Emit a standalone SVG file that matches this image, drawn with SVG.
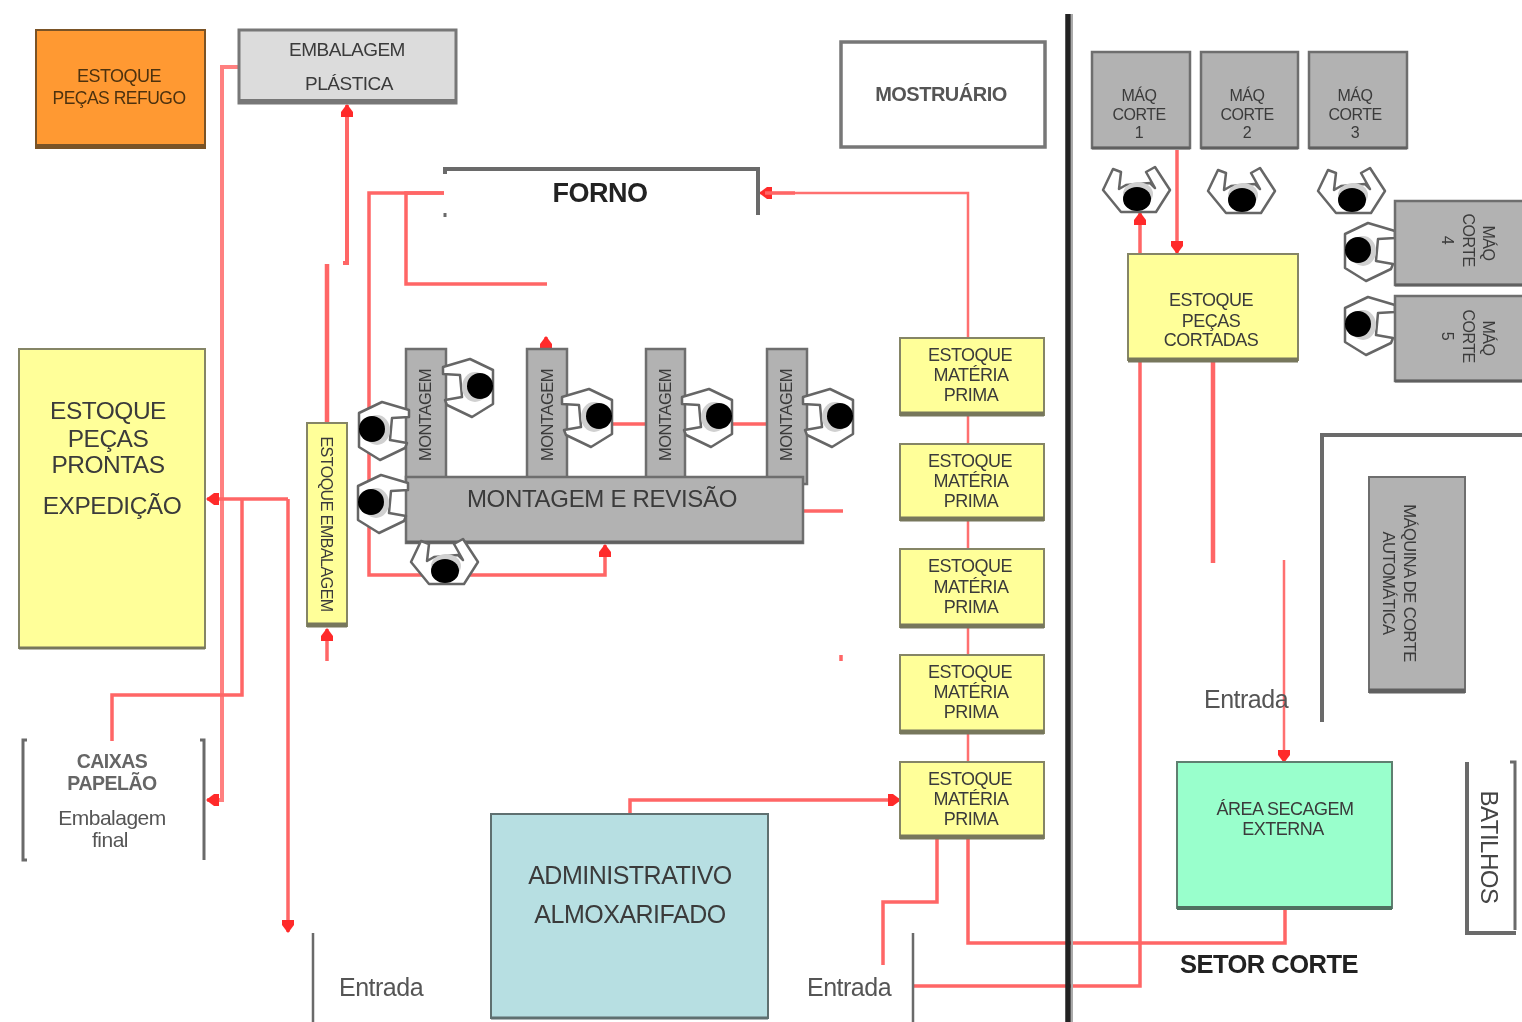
<svg xmlns="http://www.w3.org/2000/svg" xmlns:xlink="http://www.w3.org/1999/xlink" width="1522" height="1022" viewBox="0 0 1522 1022">
<style>
text{font-family:"Liberation Sans",Arial,sans-serif;text-anchor:middle;fill:#3a3a3a;letter-spacing:-.5px}
.s17{font-size:18px}.s25{font-size:25px}.s16{font-size:16.5px}.m{font-size:16px}
.y{fill:#ffff99;stroke:#858566;stroke-width:2}
.g{fill:#b2b2b2;stroke:#6e6e6e;stroke-width:2.5}
.yb{stroke:#77775c;stroke-width:5;fill:none}
.gb{stroke:#606060;stroke-width:5;fill:none}
.wall{fill:none;stroke:#6a6a6a;stroke-width:4}
.c{fill:none;stroke:#ff6666;stroke-width:3.5}
.c2{fill:none;stroke:#ff7070;stroke-width:2.5}
.pb{fill:#fff;stroke:#666;stroke-width:2.5;stroke-linejoin:round}
.en{font-size:25px;fill:#555}
</style>
<defs>
<filter id="soft" filterUnits="userSpaceOnUse" x="0" y="0" width="1522" height="1022"><feGaussianBlur stdDeviation="0.7"/></filter>
<marker id="a" markerUnits="userSpaceOnUse" markerWidth="14" markerHeight="14" refX="12" refY="7" orient="auto"><path d="M0,1 L5,1 L13,7 L5,13 L0,13Z" fill="#ff2a2a"/></marker>
<g id="person">
<path class="pb" d="M-35,-8 L-25,-29 L-17,-26 L-19,-9 L-12,-13 L12,-15 L17,-10 L8,-26 L17,-31 L32,-8 L18,14 L-17,14Z"/>
<ellipse cx="0" cy="-4" rx="15" ry="12" fill="#d0d0d0"/>
<ellipse cx="-1" cy="1" rx="14" ry="12" fill="#000"/>
</g>
<g id="side">
<path class="pb" d="M-13,-16 L10,-27 L37,-19 L37,-12 L20,-11 L18,11 L35,14 L33,19 L8,31 L-13,18Z"/>
<ellipse cx="5" cy="1" rx="13" ry="15" fill="#d0d0d0"/>
<ellipse cx="0" cy="0" rx="13" ry="13" fill="#000"/>
</g>
</defs>
<rect width="1522" height="1022" fill="#fff"/>
<g id="art" filter="url(#soft)">

<g id="connectors">
<path class="c" style="stroke:#ff8080;stroke-width:4" d="M238,67H222V800H207" marker-end="url(#a)"/>
<path class="c" style="stroke-width:4.5" d="M327,423V264"/>
<path class="c" style="stroke-width:4" d="M343,263H347V105" marker-end="url(#a)"/>
<path class="c" d="M444,193H369V575H605V545" marker-end="url(#a)"/>
<path class="c" d="M444,193H406V284H547"/>
<path class="c" d="M546,348V337" marker-end="url(#a)"/>
<path class="c2" d="M968,338V193H760" marker-end="url(#a)"/>
<path class="c" d="M795,193H765"/>
<path class="c2" d="M968,416V444M968,521V549M968,628V655M968,734V762"/>
<path class="c" d="M600,424H646M705,424H766"/>
<path class="c" d="M804,511H843"/>
<path class="c" d="M841,655V661"/>
<path class="c" d="M327,661V629" marker-end="url(#a)"/>
<path class="c" d="M288,499H207" marker-end="url(#a)"/>
<path class="c" d="M288,499V932" marker-end="url(#a)"/>
<path class="c" d="M242,499V695H112V741"/>
<path class="c" d="M630,813V800H900" marker-end="url(#a)"/>
<path class="c" d="M937,838V902H883V965"/>
<path class="c" d="M968,838V943H1285V908"/>
<path class="c" d="M914,986H1140V213" marker-end="url(#a)"/>
<path class="c" d="M1177,150V253" marker-end="url(#a)"/>
<path class="c" style="stroke-width:4.5" d="M1213,360V563"/>
<path class="c2" d="M1284,560V762" marker-end="url(#a)"/>
</g>

<g id="divider"><path d="M1068,14V1022" stroke="#222" stroke-width="5.5"/><path d="M1072,14V1022" stroke="#aaa" stroke-width="2"/></g>
<g id="walls">
<path class="wall" d="M1322,722V435H1522"/>
<path class="wall" style="stroke-width:2.5" d="M313,933V1022M913,933V1022"/>
<path class="wall" style="stroke-width:3" d="M27,740H23V860H27M200,740H204V860"/>
<path class="wall" style="stroke-width:3" d="M1510,762H1515V930"/>
<path class="wall" d="M1467,762V933H1516"/>
<path class="wall" d="M445,174V169H758V215"/>
<path class="wall" d="M445,213V217" style="stroke-width:3"/>
</g>

<g id="estoque-refugo"><rect x="36" y="30" width="169" height="118" fill="#ff9933" stroke="#7a5226" stroke-width="2"/><path d="M36,146H205" stroke="#7a5226" stroke-width="4"/><text class="s17" x="119" y="82" style="fill:#4d3210">ESTOQUE</text><text class="s17" x="119" y="104" style="fill:#4d3210;font-size:17.5px">PEÇAS REFUGO</text></g>
<g id="embalagem-plastica"><rect x="239" y="30" width="217" height="73" fill="#dcdcdc" stroke="#777" stroke-width="3"/><path d="M239,101H456" stroke="#777" stroke-width="4"/><text x="347" y="56" style="font-size:19px">EMBALAGEM</text><text x="349" y="90" style="font-size:19px">PLÁSTICA</text></g>
<g id="mostruario"><rect x="841" y="42" width="204" height="105" fill="#fff" stroke="#777" stroke-width="3.5"/><text x="941" y="101" style="font-size:20px;font-weight:bold;fill:#555">MOSTRUÁRIO</text></g>
<g id="forno"><text x="600" y="202" style="font-size:27px;font-weight:bold;fill:#222">FORNO</text></g>

<g id="estoque-prontas"><rect x="19" y="349" width="186" height="299" class="y"/><path class="yb" d="M19,648H205" style="stroke-width:3"/><text x="108" y="419" style="font-size:24.5px">ESTOQUE</text><text x="108" y="447" style="font-size:24.5px">PEÇAS</text><text x="108" y="473" style="font-size:24.5px">PRONTAS</text><text x="112" y="514" style="font-size:24.5px">EXPEDIÇÃO</text></g>
<g id="estoque-embalagem"><rect x="307" y="423" width="40" height="203" class="y"/><path class="yb" d="M307,625H347"/><text transform="translate(321,524) rotate(90)" style="font-size:16px">ESTOQUE EMBALAGEM</text></g>
<g id="caixas"><text x="112" y="768" style="font-size:19.5px;font-weight:bold;fill:#666">CAIXAS</text><text x="112" y="790" style="font-size:19.5px;font-weight:bold;fill:#666">PAPELÃO</text><text x="112" y="825" style="font-size:21px;fill:#555">Embalagem</text><text x="110" y="847" style="font-size:21px;fill:#555">final</text></g>

<g id="montagem-1"><rect x="406" y="349" width="40" height="130" class="g"/><text transform="translate(431,415) rotate(-90)" class="s16">MONTAGEM</text></g>
<g id="montagem-2"><rect x="527" y="349" width="40" height="130" class="g"/><text transform="translate(553,415) rotate(-90)" class="s16">MONTAGEM</text></g>
<g id="montagem-3"><rect x="646" y="349" width="39" height="130" class="g"/><text transform="translate(671,415) rotate(-90)" class="s16">MONTAGEM</text></g>
<g id="montagem-4"><rect x="767" y="349" width="40" height="135" class="g"/><text transform="translate(792,415) rotate(-90)" class="s16">MONTAGEM</text></g>
<g id="montagem-revisao"><rect x="406" y="477" width="397" height="66" class="g"/><path class="gb" d="M406,542H803" style="stroke-width:3"/><text x="602" y="507" style="font-size:24px;letter-spacing:-.3px">MONTAGEM E REVISÃO</text></g>

<g id="people">
<use href="#side" transform="translate(480,386) scale(-1,1)"/>
<use href="#side" transform="translate(599,416) scale(-1,1)"/>
<use href="#side" transform="translate(719,416) scale(-1,1)"/>
<use href="#side" transform="translate(840,416) scale(-1,1)"/>
<use href="#side" transform="translate(372,429)"/>
<use href="#side" transform="translate(371,502)"/>
<use href="#person" transform="translate(446,570)"/>
<use href="#person" transform="translate(1138,198)"/>
<use href="#person" transform="translate(1243,199)"/>
<use href="#person" transform="translate(1353,199)"/>
<use href="#side" transform="translate(1358,250)"/>
<use href="#side" transform="translate(1358,324)"/>
</g>

<g id="mp-1"><rect x="900" y="338" width="144" height="77" class="y"/><path class="yb" d="M900,414H1044"/><text class="s17" x="970" y="361">ESTOQUE</text><text class="s17" x="971" y="381">MATÉRIA</text><text class="s17" x="971" y="401">PRIMA</text></g>
<g id="mp-2"><rect x="900" y="444" width="144" height="76" class="y"/><path class="yb" d="M900,519H1044"/><text class="s17" x="970" y="467">ESTOQUE</text><text class="s17" x="971" y="487">MATÉRIA</text><text class="s17" x="971" y="507">PRIMA</text></g>
<g id="mp-3"><rect x="900" y="549" width="144" height="78" class="y"/><path class="yb" d="M900,626H1044"/><text class="s17" x="970" y="572">ESTOQUE</text><text class="s17" x="971" y="593">MATÉRIA</text><text class="s17" x="971" y="613">PRIMA</text></g>
<g id="mp-4"><rect x="900" y="655" width="144" height="78" class="y"/><path class="yb" d="M900,732H1044"/><text class="s17" x="970" y="678">ESTOQUE</text><text class="s17" x="971" y="698">MATÉRIA</text><text class="s17" x="971" y="718">PRIMA</text></g>
<g id="mp-5"><rect x="900" y="762" width="144" height="76" class="y"/><path class="yb" d="M900,837H1044"/><text class="s17" x="970" y="785">ESTOQUE</text><text class="s17" x="971" y="805">MATÉRIA</text><text class="s17" x="971" y="825">PRIMA</text></g>

<g id="administrativo"><rect x="491" y="814" width="277" height="204" fill="#b7dfe2" stroke="#5f6f70" stroke-width="2"/><path d="M491,1018H768" stroke="#5f6f70" stroke-width="3"/><text class="s25" x="630" y="884">ADMINISTRATIVO</text><text class="s25" x="630" y="923">ALMOXARIFADO</text></g>

<g id="maq-1"><rect x="1092" y="52" width="98" height="96" class="g"/><path class="gb" d="M1092,148H1190" style="stroke-width:3"/><text class="m" x="1139" y="101">MÁQ</text><text class="m" x="1139" y="120">CORTE</text><text class="m" x="1139" y="138">1</text></g>
<g id="maq-2"><rect x="1201" y="52" width="97" height="96" class="g"/><path class="gb" d="M1201,148H1298" style="stroke-width:3"/><text class="m" x="1247" y="101">MÁQ</text><text class="m" x="1247" y="120">CORTE</text><text class="m" x="1247" y="138">2</text></g>
<g id="maq-3"><rect x="1309" y="52" width="98" height="96" class="g"/><path class="gb" d="M1309,148H1407" style="stroke-width:3"/><text class="m" x="1355" y="101">MÁQ</text><text class="m" x="1355" y="120">CORTE</text><text class="m" x="1355" y="138">3</text></g>
<g id="maq-4"><rect x="1395" y="201" width="129" height="84" class="g"/><path class="gb" d="M1395,285H1524" style="stroke-width:3"/><text class="m" transform="translate(1483,243) rotate(90)">MÁQ</text><text class="m" transform="translate(1463,240) rotate(90)">CORTE</text><text class="m" transform="translate(1442,240) rotate(90)">4</text></g>
<g id="maq-5"><rect x="1395" y="296" width="129" height="85" class="g"/><path class="gb" d="M1395,381H1524" style="stroke-width:3"/><text class="m" transform="translate(1483,338) rotate(90)">MÁQ</text><text class="m" transform="translate(1463,336) rotate(90)">CORTE</text><text class="m" transform="translate(1442,336) rotate(90)">5</text></g>
<g id="maquina-automatica"><rect x="1369" y="477" width="96" height="215" class="g" style="stroke-width:2"/><path class="gb" d="M1369,691H1465"/><text transform="translate(1404,583) rotate(90)" class="s16">MÁQUINA DE CORTE</text><text transform="translate(1383,583) rotate(90)" class="s16">AUTOMÁTICA</text></g>

<g id="estoque-cortadas"><rect x="1128" y="254" width="170" height="106" class="y"/><path class="yb" d="M1128,360H1298"/><text class="s17" x="1211" y="306">ESTOQUE</text><text class="s17" x="1211" y="327">PEÇAS</text><text class="s17" x="1211" y="346">CORTADAS</text></g>
<g id="secagem"><rect x="1177" y="762" width="215" height="146" fill="#99ffcc" stroke="#5f7f70" stroke-width="2"/><path d="M1177,908H1392" stroke="#4f6f60" stroke-width="4"/><text class="s17" x="1285" y="815">ÁREA SECAGEM</text><text class="s17" x="1283" y="835">EXTERNA</text></g>

<g id="batilhos"><text transform="translate(1481,847) rotate(90)" style="font-size:24px;fill:#444">BATILHOS</text></g>
<g id="labels">
<text class="en" x="381" y="996">Entrada</text>
<text class="en" x="849" y="996">Entrada</text>
<text class="en" x="1246" y="708">Entrada</text>
<text x="1269" y="973" style="font-size:25.5px;font-weight:bold;fill:#222">SETOR CORTE</text>
</g>
</g>
</svg>
